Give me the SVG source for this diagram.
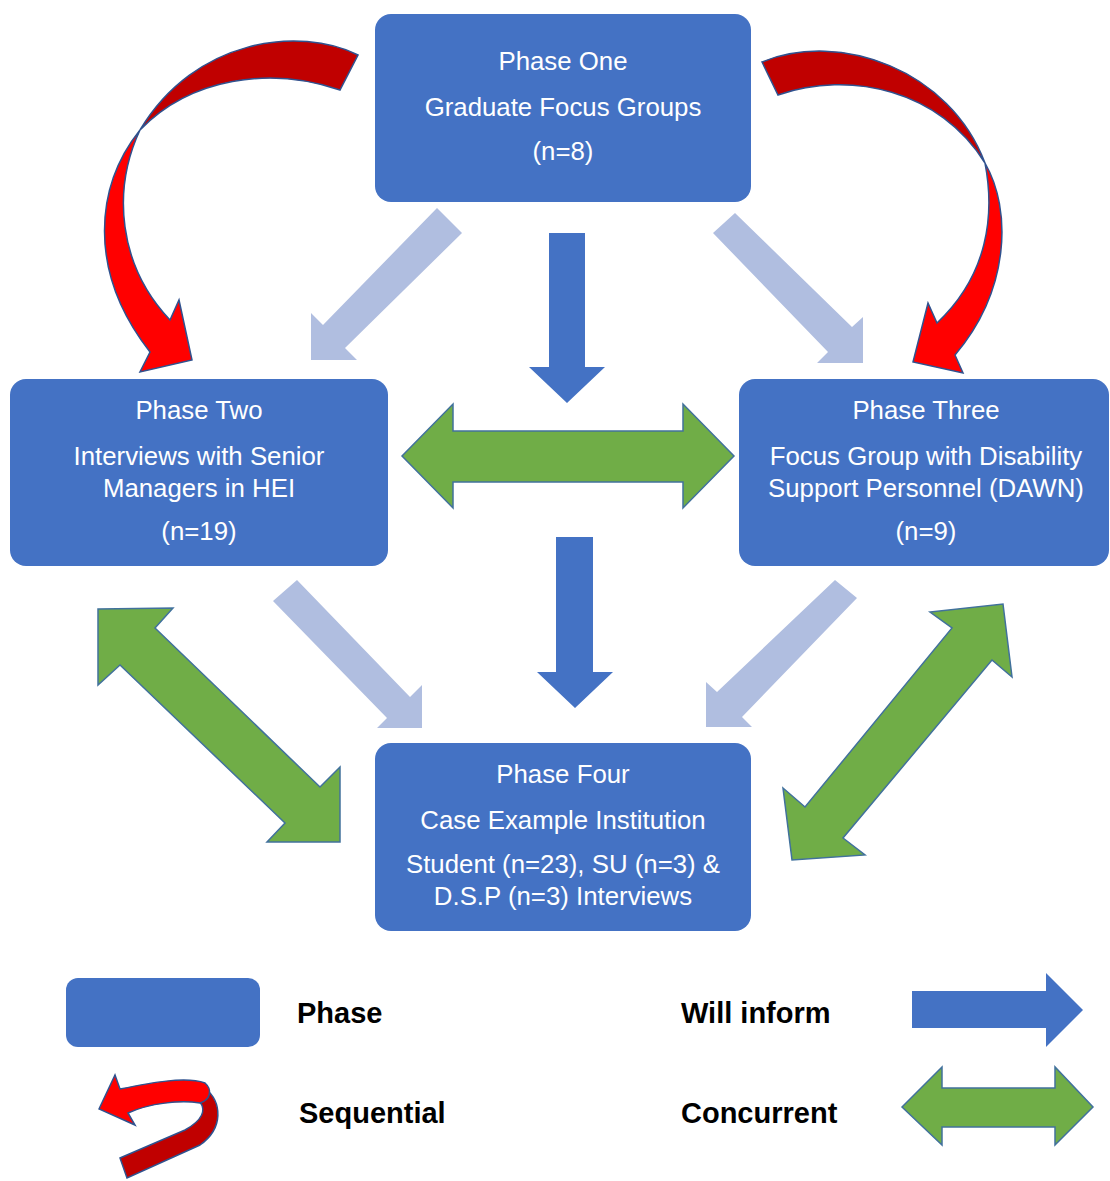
<svg xmlns="http://www.w3.org/2000/svg" width="1110" height="1181" viewBox="0 0 1110 1181">
<style>
.box{fill:#4472C4;}
.nt{font-family:"Liberation Sans",Arial,sans-serif;font-size:25.8px;fill:#FFFFFF;text-anchor:middle;}
.lt{font-family:"Liberation Sans",Arial,sans-serif;font-size:29px;font-weight:bold;fill:#000000;}
.inform{fill:#4472C4;}
.light{fill:#B0BEE0;}
.conc{fill:#70AD47;stroke:#41719C;stroke-width:1.5;stroke-linejoin:miter;}
.seqd{fill:#C00000;stroke:#2F528F;stroke-width:1.5;}
.seqb{fill:#FF0000;stroke:#2F528F;stroke-width:1.5;}
</style>
<rect width="1110" height="1181" fill="#FFFFFF"/>
<g id="connectors">
  <g id="seq-left">
    <path class="seqd" d="M358,55 C300,26 195,38 140,130 C190,78 270,66 340,90 Z"/>
    <path class="seqb" d="M140,130 C96,185 86,270 150,352 L140,372 L192,360 L179,300 L170,320 C118,265 112,190 140,130 Z"/>
  </g>
  <g id="seq-right">
    <path class="seqd" d="M762,62 C840,30 950,70 985,163 C940,90 850,70 778,95 Z"/>
    <path class="seqb" d="M985,163 C1012,210 1010,290 955,355 L963,373 L913,362 L928,303 L937,323 C988,275 995,215 985,163 Z"/>
  </g>
  <polygon class="light" points="437,208 462,233 345,348 357,360 311,360 311,313 323,325"/>
  <polygon class="light" points="735,213 713,233 828,352 817,363 863,363 863,317 852,327"/>
  <polygon class="light" points="273,601 297,580 410,697 422,685 422,728 377,728 387,718"/>
  <polygon class="light" points="857,598 835,580 717,692 706,682 706,727 752,727 742,717"/>
  <polygon class="inform" points="549,233 585,233 585,367 605,367 567,403 529,367 549,367"/>
  <polygon class="inform" points="556,537 593,537 593,672 613,672 575,708 537,672 556,672"/>
  <polygon class="conc" points="402,456 453,404 453,431 683,431 683,404 734,456 683,508 683,482 453,482 453,508"/>
  <polygon class="conc" points="98,609 173,608 155,628 320,787 340,767 340,842 267,842 285,823 120,665 98,685"/>
  <polygon class="conc" points="1003,604 1012,677 992,660 843,838 865,855 792,860 783,788 805,807 952,628 930,612"/>
</g>
<g id="phase-one">
  <rect class="box" x="375" y="14" width="376" height="188" rx="16"/>
  <text class="nt" x="563" y="70">Phase One</text>
  <text class="nt" x="563" y="116">Graduate Focus Groups</text>
  <text class="nt" x="563" y="160">(n=8)</text>
</g>
<g id="phase-two">
  <rect class="box" x="10" y="379" width="378" height="187" rx="16"/>
  <text class="nt" x="199" y="419">Phase Two</text>
  <text class="nt" x="199" y="465">Interviews with Senior</text>
  <text class="nt" x="199" y="497">Managers in HEI</text>
  <text class="nt" x="199" y="540">(n=19)</text>
</g>
<g id="phase-three">
  <rect class="box" x="739" y="379" width="370" height="187" rx="16"/>
  <text class="nt" x="926" y="419">Phase Three</text>
  <text class="nt" x="926" y="465">Focus Group with Disability</text>
  <text class="nt" x="926" y="497">Support Personnel (DAWN)</text>
  <text class="nt" x="926" y="540">(n=9)</text>
</g>
<g id="phase-four">
  <rect class="box" x="375" y="743" width="376" height="188" rx="16"/>
  <text class="nt" x="563" y="783">Phase Four</text>
  <text class="nt" x="563" y="829">Case Example Institution</text>
  <text class="nt" x="563" y="873">Student (n=23), SU (n=3) &amp;</text>
  <text class="nt" x="563" y="905">D.S.P (n=3) Interviews</text>
</g>
<g id="legend">
  <rect class="box" x="66" y="978" width="194" height="69" rx="12"/>
  <text class="lt" x="297" y="1023">Phase</text>
  <text class="lt" x="681" y="1023">Will inform</text>
  <polygon class="inform" points="912,991 1046,991 1046,973 1083,1010 1046,1047 1046,1028 912,1028"/>
  <path class="seqd" d="M205,1088 C222,1102 224,1128 200,1145 L127,1178 L120,1158 L185,1130 C203,1120 206,1110 200,1102 Z"/>
  <path class="seqb" d="M99,1109 L115,1075 L120,1089 C150,1083 185,1076 205,1083 C213,1090 210,1100 200,1103 C180,1100 150,1103 128,1113 L135,1125 Z"/>
  <text class="lt" x="299" y="1123">Sequential</text>
  <text class="lt" x="681" y="1123">Concurrent</text>
  <polygon class="conc" points="902,1107 942,1067 942,1088 1055,1088 1055,1067 1093,1107 1055,1145 1055,1127 942,1127 942,1145"/>
</g>
</svg>
